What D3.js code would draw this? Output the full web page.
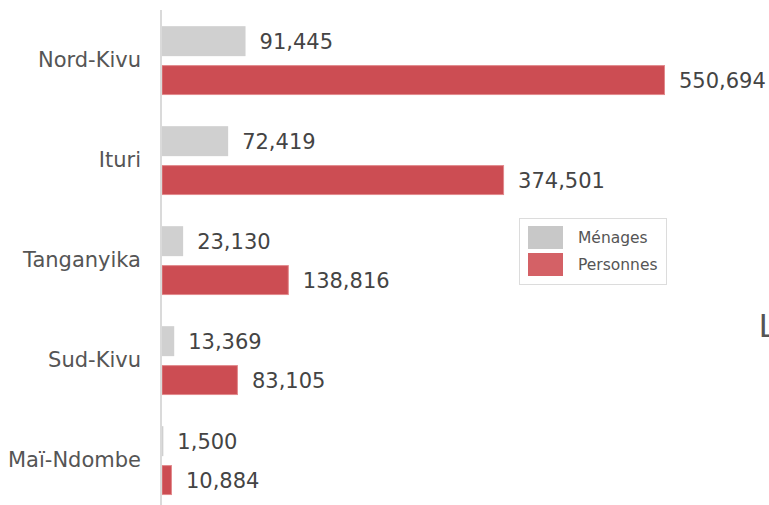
<!DOCTYPE html>
<html><head><meta charset="utf-8">
<script src="https://cdn.jsdelivr.net/npm/d3@7"></script>
<style>body{margin:0;background:#fff}svg{display:block}</style>
</head><body>
<script>
const categories = ["Nord-Kivu","Ituri","Tanganyika","Sud-Kivu","Maï-Ndombe"];
const series = ["Ménages","Personnes"];
const menages = [91445, 72419, 23130, 13369, 1500];
const personnes = [550694, 374501, 138816, 83105, 10884];

const W = 769, H = 505;
const svg = d3.select("body").append("svg").attr("width", W).attr("height", H);
const font = "'DejaVu Sans', Verdana, sans-serif";

const y = d3.scaleBand().domain(categories).range([10, 510]).padding(0);
const yInner = d3.scaleBand().domain(series).range([0, 100]).paddingInner(0.23).paddingOuter(0.4).align(0.52);
const x = d3.scaleLinear().domain([0, d3.max(personnes)]).range([162, 665]);

const fills = {"Ménages": "#d0d0d0", "Personnes": "#cc4d53"};
const strokes = {"Ménages": "none", "Personnes": "#e2898c"};
const rows = [];
categories.forEach((c, i) => {
  rows.push({cat: c, s: "Ménages", v: menages[i]});
  rows.push({cat: c, s: "Personnes", v: personnes[i]});
});

svg.selectAll("rect.bar").data(rows).enter().append("rect")
  .attr("class", "bar")
  .attr("x", x(0))
  .attr("y", d => y(d.cat) + yInner(d.s) + (d.s === "Personnes" ? 0.5 : 0))
  .attr("width", d => Math.max(0, x(d.v) - x(0) - (d.s === "Personnes" ? 0.5 : 0)))
  .attr("height", d => yInner.bandwidth() - (d.s === "Personnes" ? 1 : 0))
  .attr("fill", d => fills[d.s])
  .attr("stroke", d => strokes[d.s])
  .attr("stroke-width", 1);

const fmt = d3.format(",");
svg.selectAll("text.val").data(rows).enter().append("text")
  .attr("class", "val")
  .attr("x", d => x(d.v) + 14)
  .attr("y", d => y(d.cat) + yInner(d.s) + yInner.bandwidth() / 2)
  .attr("dy", "0.36em")
  .attr("font-family", font).attr("font-size", 21).attr("fill", "#444")
  .text(d => fmt(d.v));

// axis line
svg.append("line").attr("x1", 161).attr("x2", 161).attr("y1", 10).attr("y2", 505)
  .attr("stroke", "#dadada").attr("stroke-width", 2);

const yAxis = d3.axisLeft(y).tickSize(0).tickPadding(20);
const gA = svg.append("g").attr("transform", "translate(161,0)").call(yAxis);
gA.select(".domain").remove();
gA.selectAll("text").attr("font-family", font).attr("font-size", 21).attr("fill", "#555");

// legend
const lg = svg.append("g");
lg.append("rect").attr("x", 519.5).attr("y", 218.5).attr("width", 147).attr("height", 66)
  .attr("fill", "#fff").attr("stroke", "#dcdcdc");
const legFill = {"Ménages": "#c8c8c8", "Personnes": "#d46166"};
series.forEach((s, i) => {
  lg.append("rect").attr("x", 528).attr("y", 226 + i * 27).attr("width", 35).attr("height", 23).attr("fill", legFill[s]);
  lg.append("text").attr("x", 578).attr("y", 226 + i * 27 + 11.5).attr("dy", "0.36em")
    .attr("font-family", font).attr("font-size", 15.5).attr("fill", "#555").text(s);
});

svg.append("text").attr("x", 759).attr("y", 337)
  .attr("font-family", "'Liberation Sans', sans-serif")
  .attr("font-size", 33).attr("fill", "#555").text("L");
</script>
</body></html>
